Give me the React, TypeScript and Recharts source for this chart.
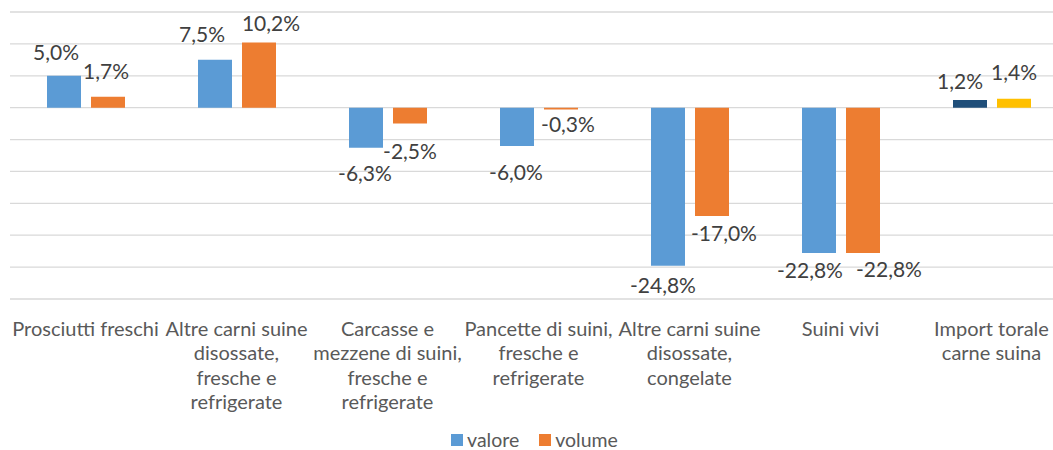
import React from 'react'
import { BarChart, Bar, XAxis, YAxis, CartesianGrid, Legend, LabelList, Cell } from 'recharts'

// categorie (a capo con \n come nel grafico originale)
const categories = [
  'Prosciutti freschi',
  'Altre carni suine\ndisossate,\nfresche e\nrefrigerate',
  'Carcasse e\nmezzene di suini,\nfresche e\nrefrigerate',
  'Pancette di suini,\nfresche e\nrefrigerate',
  'Altre carni suine\ndisossate,\ncongelate',
  'Suini vivi',
  'Import torale\ncarne suina',
]

const valore = [5.0, 7.5, -6.3, -6.0, -24.8, -22.8, 1.2]
const volume = [1.7, 10.2, -2.5, -0.3, -17.0, -22.8, 1.4]

const yTicks = [-30, -25, -20, -15, -10, -5, 0, 5, 10, 15]

// spostamenti manuali delle etichette [dx, dy] rispetto alla fine della barra
const valoreNudge = [[-8, -23], [-13, -25], [-1, 26], [-1, 27], [-5, 20], [-9, 17], [-10, -19]]
const volumeNudge = [[-2, -25], [12, -19], [0, 28], [7, 15], [12, 17], [26, 16], [0, -26]]

const BLUE = '#5B9BD5'
const ORANGE = '#ED7D31'
const DARK_BLUE = '#1F4E79'
const GOLD = '#FFC000'
const FONT = 'Lato, "Open Sans", sans-serif'

const data = categories.map((name, i) => ({ name, valore: valore[i], volume: volume[i] }))

const fmt = (v: number) => v.toFixed(1).replace('.', ',') + '%'

const makeLabel = (nudge: number[][]) => (props: any) => {
  const { x, y, width, height, value, index } = props
  const top = Math.min(y, y + height)
  const bottom = Math.max(y, y + height)
  const end = value >= 0 ? top : bottom
  const [dx, dy] = nudge[index] || [0, 0]
  return (
    <text
      x={x + width / 2 + dx}
      y={end + dy + 7.5}
      textAnchor="middle"
      fill="#404040"
      fontSize={21}
      fontFamily={FONT}
    >
      {fmt(value)}
    </text>
  )
}

const CategoryTick = ({ x, y, payload }: any) => {
  const lines = String(payload.value).split('\n')
  return (
    <text x={x} y={y} textAnchor="middle" fill="#595959" fontSize={20} fontFamily={FONT}>
      {lines.map((line, i) => (
        <tspan key={i} x={x} dy={i === 0 ? 35 : 24.4}>
          {line}
        </tspan>
      ))}
    </text>
  )
}

const legendItems = [
  { label: 'valore', color: BLUE },
  { label: 'volume', color: ORANGE },
]

const CustomLegend = () => (
  <div
    style={{
      display: 'flex',
      justifyContent: 'center',
      gap: 20,
      fontFamily: FONT,
      fontSize: 19.5,
      lineHeight: '18px',
      color: '#595959',
    }}
  >
    {legendItems.map(item => (
      <div key={item.label} style={{ display: 'flex', alignItems: 'center' }}>
        <span style={{ width: 12, height: 12, background: item.color, marginRight: 4, display: 'inline-block' }} />
        <span>{item.label}</span>
      </div>
    ))}
  </div>
)

export default function App() {
  return (
    <div style={{ position: 'fixed', top: 0, left: 0, width: 1053, height: 450, overflow: 'hidden', background: '#fff' }}>
      <BarChart
        width={1075}
        height={450}
        data={data}
        margin={{ top: 12, right: 8, left: 10, bottom: 31 }}
        barSize={34}
        barGap={10}
      >
        <CartesianGrid vertical={false} stroke="#D9D9D9" strokeWidth={1.3} />
        <XAxis
          dataKey="name"
          axisLine={false}
          tickLine={false}
          tickSize={0}
          interval={0}
          height={120}
          tick={<CategoryTick />}
        />
        <YAxis type="number" domain={[-30, 15]} ticks={yTicks} hide />
        <Legend
          layout="horizontal"
          verticalAlign="middle"
          align="center"
          wrapperStyle={{ top: 431, left: 0, width: 1069 }}
          content={<CustomLegend />}
        />
        <Bar dataKey="valore" fill={BLUE} isAnimationActive={false}>
          {data.map((_, i) => (
            <Cell key={i} fill={i === data.length - 1 ? DARK_BLUE : BLUE} />
          ))}
          <LabelList dataKey="valore" content={makeLabel(valoreNudge)} />
        </Bar>
        <Bar dataKey="volume" fill={ORANGE} isAnimationActive={false}>
          {data.map((_, i) => (
            <Cell key={i} fill={i === data.length - 1 ? GOLD : ORANGE} />
          ))}
          <LabelList dataKey="volume" content={makeLabel(volumeNudge)} />
        </Bar>
      </BarChart>
    </div>
  )
}
